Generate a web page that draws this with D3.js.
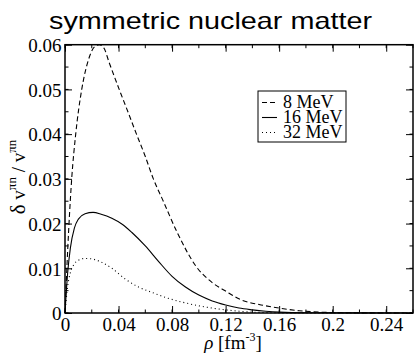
<!DOCTYPE html>
<html>
<head>
<meta charset="utf-8">
<script src="https://cdn.jsdelivr.net/npm/d3@7/dist/d3.min.js"></script>
<style>
  html, body { margin: 0; padding: 0; background: #fff; }
  svg { display: block; }
</style>
</head>
<body>
<script>
// Relative fluctuation of the pi-n potential vs. density, symmetric nuclear matter
const rho8 = [0, 0.002, 0.005, 0.008, 0.0125, 0.0175, 0.022, 0.0256, 0.029, 0.033, 0.0405, 0.047, 0.0534, 0.060, 0.066, 0.073, 0.084, 0.098, 0.110, 0.120, 0.132, 0.145, 0.160, 0.175, 0.190, 0.210, 0.260];
const val8 = [0, 0.014, 0.030, 0.040, 0.050, 0.0566, 0.0595, 0.060, 0.0593, 0.056, 0.050, 0.045, 0.040, 0.035, 0.030, 0.0253, 0.0179, 0.0104, 0.0068, 0.0049, 0.0029, 0.0019, 0.0011, 0.0005, 0.0002, 0.00005, 0];

const rho16 = [0, 0.002, 0.004, 0.007, 0.010, 0.015, 0.021, 0.027, 0.035, 0.043, 0.050, 0.060, 0.070, 0.080, 0.090, 0.100, 0.110, 0.120, 0.130, 0.140, 0.150, 0.160, 0.180, 0.260];
const val16 = [0, 0.009, 0.0145, 0.019, 0.021, 0.0222, 0.0225, 0.0221, 0.0212, 0.0198, 0.0180, 0.0150, 0.0115, 0.0082, 0.0058, 0.0040, 0.0027, 0.0018, 0.0011, 0.0007, 0.0004, 0.0002, 0.00005, 0];

const rho32 = [0, 0.002, 0.004, 0.007, 0.010, 0.015, 0.020, 0.027, 0.035, 0.045, 0.055, 0.065, 0.077, 0.088, 0.100, 0.110, 0.120, 0.130, 0.140, 0.150, 0.170, 0.260];
const val32 = [0, 0.006, 0.009, 0.011, 0.0118, 0.0122, 0.0121, 0.0114, 0.0100, 0.0076, 0.0058, 0.0046, 0.0033, 0.0024, 0.0016, 0.0011, 0.0007, 0.0004, 0.0002, 0.0001, 0, 0];

const seriesNames = ["8 MeV", "16 MeV", "32 MeV"];
const xTicks = [0, 0.04, 0.08, 0.12, 0.16, 0.2, 0.24];
const xTickLabels = ["0", "0.04", "0.08", "0.12", "0.16", "0.2", "0.24"];
const yTicks = [0, 0.01, 0.02, 0.03, 0.04, 0.05, 0.06];
const yTickLabels = ["0", "0.01", "0.02", "0.03", "0.04", "0.05", "0.06"];

const W = 414, H = 357;
const L = 65, R = 413, T = 44.7, B = 313;
const serif = "'Liberation Serif', 'Times New Roman', serif";

const svg = d3.select("body").append("svg").attr("width", W).attr("height", H);

const x = d3.scaleLinear().domain([0, 0.26]).range([L, R]);
const y = d3.scaleLinear().domain([0, 0.06]).range([B, T]);

// Title
svg.append("text")
  .attr("x", 49).attr("y", 28.5)
  .attr("textLength", 323).attr("lengthAdjust", "spacingAndGlyphs")
  .style("font-family", "'Liberation Sans', Arial, sans-serif")
  .style("font-size", "24px")
  .attr("fill", "#000")
  .text("symmetric nuclear matter");

// Curves
const line = d3.line().x(d => x(d[0])).y(d => y(d[1])).curve(d3.curveMonotoneX);
const series = [
  { pts: d3.zip(rho8, val8), dash: "5,3", w: 1.1 },
  { pts: d3.zip(rho16, val16), dash: null, w: 1.1 },
  { pts: d3.zip(rho32, val32), dash: "1,3", w: 1.1 }
];
const plot = svg.append("g");
series.forEach(s => {
  plot.append("path")
    .attr("d", line(s.pts))
    .attr("fill", "none")
    .attr("stroke", "#000")
    .attr("stroke-width", s.w)
    .attr("stroke-dasharray", s.dash);
});

// Axes: ticks point inward on all four sides
const xMinor = d3.range(0, 0.2601, 0.02);
const yMinor = d3.range(0, 0.0601, 0.005);
const axB = d3.axisBottom(x).tickValues(xTicks).tickSizeInner(-7).tickSizeOuter(0).tickFormat((d, i) => xTickLabels[i]).tickPadding(5);
const axT = d3.axisTop(x).tickValues(xTicks).tickSizeInner(-7).tickSizeOuter(0).tickFormat("");
const axL = d3.axisLeft(y).tickValues(yTicks).tickSizeInner(-7).tickSizeOuter(0).tickFormat((d, i) => yTickLabels[i]).tickPadding(3.5);
const axR = d3.axisRight(y).tickValues(yTicks).tickSizeInner(-7).tickSizeOuter(0).tickFormat("");

function styleAxis(g) {
  g.select(".domain").remove();
  g.selectAll("line").attr("stroke", "#000").attr("stroke-width", 1);
  g.selectAll("text").style("font-family", serif).style("font-size", "19px").attr("fill", "#000");
}
svg.append("g").attr("transform", `translate(0,${B})`).call(axB).call(styleAxis)
  .selectAll("text").attr("dy", "0.71em");
svg.append("g").attr("transform", `translate(0,${T})`).call(axT).call(styleAxis);
svg.append("g").attr("transform", `translate(${L},0)`).call(axL).call(styleAxis)
  .selectAll("text").attr("dy", "0.36em");
svg.append("g").attr("transform", `translate(${R},0)`).call(axR).call(styleAxis);

// Minor ticks
const minor = svg.append("g").attr("stroke", "#000").attr("stroke-width", 1);
xMinor.forEach(v => {
  minor.append("line").attr("x1", x(v)).attr("x2", x(v)).attr("y1", B).attr("y2", B - 3.5);
  minor.append("line").attr("x1", x(v)).attr("x2", x(v)).attr("y1", T).attr("y2", T + 3.5);
});
yMinor.forEach(v => {
  minor.append("line").attr("x1", L).attr("x2", L + 3.5).attr("y1", y(v)).attr("y2", y(v));
  minor.append("line").attr("x1", R).attr("x2", R - 3.5).attr("y1", y(v)).attr("y2", y(v));
});

// Frame
svg.append("rect")
  .attr("x", L).attr("y", T).attr("width", R - L).attr("height", B - T)
  .attr("fill", "none").attr("stroke", "#000").attr("stroke-width", 1.5);

// Axis titles
const xt = svg.append("text")
  .attr("x", 233).attr("y", 349)
  .attr("text-anchor", "middle")
  .style("font-family", serif).style("font-size", "19px").attr("fill", "#000");
xt.append("tspan").style("font-style", "italic").text("ρ");
xt.append("tspan").text(" [fm");
xt.append("tspan").attr("dy", -8).style("font-size", "12px").text("-3");
xt.append("tspan").attr("dy", 8).text("]");

const yt = svg.append("text")
  .attr("transform", "translate(25,177) rotate(-90)")
  .attr("text-anchor", "middle")
  .style("font-family", serif).style("font-size", "19px").attr("fill", "#000");
yt.append("tspan").style("font-size", "21px").text("δ");
yt.append("tspan").text(" v");
yt.append("tspan").attr("dy", -9).style("font-size", "13px").text("πn");
yt.append("tspan").attr("dy", 9).text(" / v");
yt.append("tspan").attr("dy", -9).style("font-size", "13px").text("πn");

// Legend
const lg = svg.append("g");
lg.append("rect").attr("x", 258).attr("y", 91).attr("width", 88).attr("height", 51)
  .attr("fill", "#fff").attr("stroke", "#000").attr("stroke-width", 1);
const rowY = [102.5, 117.5, 132.5];
series.forEach((s, i) => {
  lg.append("line").attr("x1", 262).attr("x2", 277).attr("y1", rowY[i]).attr("y2", rowY[i])
    .attr("stroke", "#000").attr("stroke-width", s.w).attr("stroke-dasharray", s.dash);
  lg.append("text").attr("x", 283).attr("y", rowY[i] + 5.5)
    .style("font-family", serif).style("font-size", "18px").attr("fill", "#000")
    .text(seriesNames[i]);
});
</script>
</body>
</html>
